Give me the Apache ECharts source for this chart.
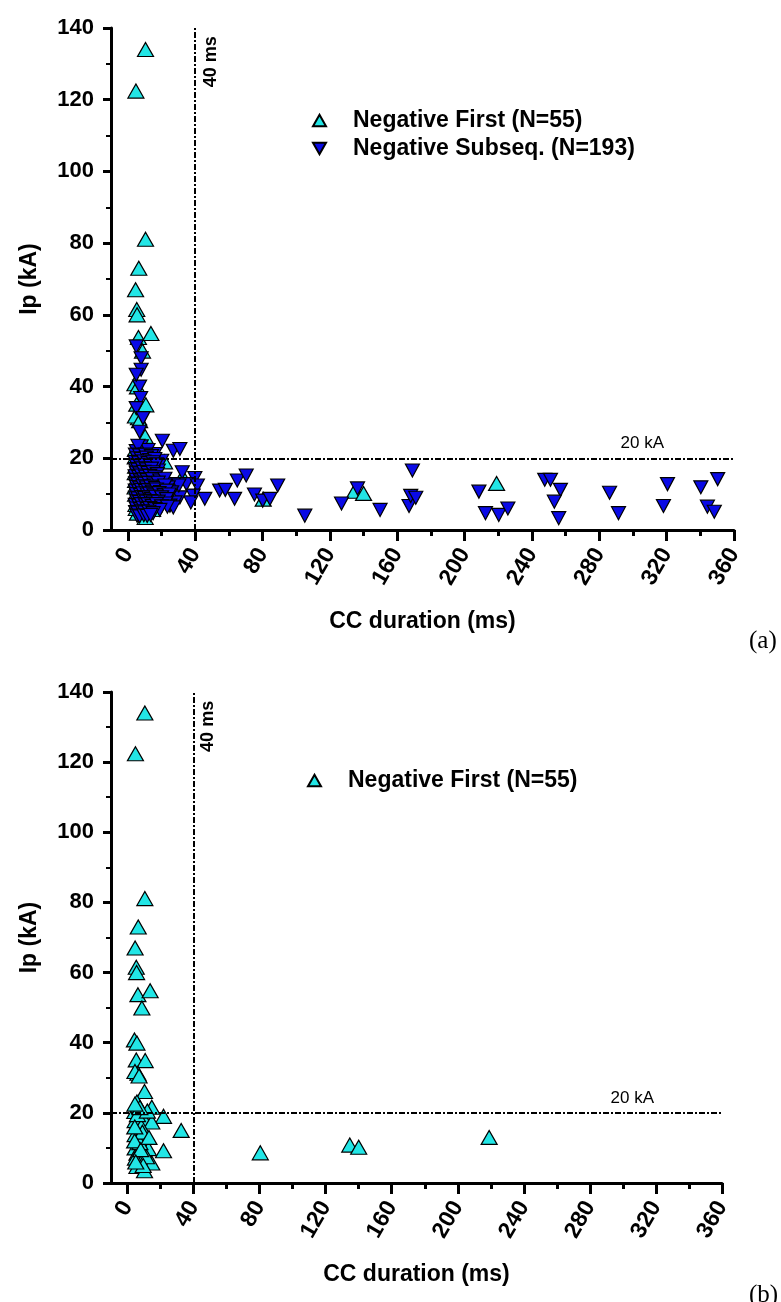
<!DOCTYPE html>
<html><head><meta charset="utf-8">
<script src="https://cdn.jsdelivr.net/npm/echarts@6/dist/echarts.min.js"></script>
<style>html,body{margin:0;padding:0;background:#fff}#c{width:781px;height:1302px}</style>
</head><body><div id="c"></div>
<script>
// ---- data ----
const xMajorTicks = [0, 40, 80, 120, 160, 200, 240, 280, 320, 360];
const xMinorTicks = [20, 60, 100, 140, 180, 220, 260, 300, 340];
const yRange = [0, 140];
const durationThreshold = 40;   // ms
const currentThreshold = 20;    // kA
const firstName = 'Negative First (N=55)';
const subseqName = 'Negative Subseq. (N=193)';

// [CC duration (ms), Ip (kA)]
const negativeFirst = [
  [10.5,134],[4.8,122.4],[10.5,81.1],[6.5,73],[4.6,67],[5.3,61.5],[5.5,60],[6.3,53.7],[13.7,54.8],[8.7,49.9],
  [4.2,40.8],[5.7,39.9],[5.3,35.1],[10.7,34.9],[6.3,31.3],[4.5,31.8],[7,30.5],[10.3,26.1],[5.7,23.1],[4.4,20.4],
  [14.7,21.6],[21.8,19],[4.6,17.8],[10.7,17.6],[14.7,17.4],[8.3,16.1],[32.5,15],[4.6,13.8],[6.7,13],[12.7,9.8],
  [21.8,9.2],[4.6,10],[5.7,8.5],[4.8,7.1],[8.7,6.2],[14.7,5.7],[5.7,4.7],[10.3,3.5],[80.4,8.6],[134.6,10.8],
  [140,10.2],[219,13],[7.5,11.5],[9,14.5],[4.3,12],[11.5,7.5],[6,19.5],[12,20.5],[4.4,16],[8,9.5],
  [9.5,5],[5,6],[13,13],[7.5,21.5],[4.5,22.5]
];

const negativeSubseq = [
  [45.7,8.7],[54.5,11.0],[57.9,11.2],[63.4,8.7],[65,13.8],[70.3,15.2],[75.2,9.9],[80.1,8.2],[84.4,8.7],[89,12.4],
  [105.1,4.0],[126.9,7.4],[136.4,11.6],[149.8,5.6],[169,16.6],[167,6.7],[168,9.5],[171,9.0],[208.5,10.7],[212.4,4.7],
  [220.3,4.2],[225.7,6.0],[247.6,14],[251,14],[256.9,11.2],[253.3,7.9],[255.9,3.3],[286.1,10.4],[291.4,4.7],[320.5,12.8],
  [318.1,6.7],[340.3,11.9],[350.3,14.2],[344.2,6.5],[348.3,5.1],
  [32.3,16.1],[39.8,14.5],[34.8,12.8],[41.3,12.4],[38.8,9.6],[37.4,7.7],[30.9,9.1],[28,7.7],[27,12.8],[30.3,12.4],
  [20.5,24.9],[27,22.1],[30.9,22.6],[20.1,19.3],[16.1,21.2],[18.1,16.6],[13.2,14.7],[20.1,11.9],[24,11.9],[26,10.5],
  [21.1,8.2],[25,6.8],[27,6.3],[18.1,8.7],[16.1,6.3],
  [5,51.2],[7.9,47.9],[7.9,44.7],[7,40],[7.6,36.8],[5,34],[9,31.2],[7,27.4],[8,23.3],[5,43.3],
  [5,22],[9,21.8],[12,22.3],[6,23.5],
  [4.5,21],[7,20.8],[10.5,21],[14,20.6],
  [5.5,20],[8,19.8],[11,20.2],[13,19.5],[16,19.8],
  [4.2,19],[6.5,18.8],[9.5,19.1],[12,18.7],[15,18.9],
  [5,18],[7.5,17.8],[10,18.2],[13.5,17.9],[17,18.3],
  [4.5,17],[6,16.8],[8.5,17.2],[11,16.9],[14,17.1],
  [5,16],[7,15.8],[9.5,16.2],[12,15.9],[15,16.1],[17.5,15.6],
  [4.3,15],[6.5,14.8],[8,15.2],[10.5,14.9],[13,15.1],[16,14.7],
  [5,14],[7.5,13.8],[9.5,14.1],[11.5,13.9],[14.5,14.2],[19,13.8],[22,14.3],
  [4.6,13],[6,12.8],[8.5,13.2],[10,12.9],[12.5,13.1],[15.5,12.7],[18,13.2],
  [5.2,12],[7,11.8],[9,12.2],[11,11.9],[13.5,12.1],[16.5,11.7],[22,12.4],
  [4.4,11],[6.5,10.8],[8,11.2],[10.5,10.9],[12,11.1],[14.5,10.7],[17,11.3],[19.5,10.6],[23,11],
  [5,10],[7.5,9.8],[9,10.2],[11.5,9.9],[13,10.1],[15.5,9.7],[18.5,10.3],[21.5,9.8],[24.5,9.9],
  [4.5,9],[6,8.8],[8.5,9.2],[10,8.9],[12.5,9.1],[14,8.7],[16.5,9.3],[20,9.1],[23,8.6],
  [5.3,8],[7,7.8],[9.5,8.2],[11,7.9],[13.5,8.1],[15,7.7],[18,7.9],[22.5,7.4],
  [4.4,7],[6.5,6.8],[8,7.2],[10.5,6.9],[12,7.1],[14.5,6.7],[17,7.2],[20,6.6],[23.5,6.5],
  [5,6],[7.5,5.8],[9,6.2],[11.5,5.9],[13,6.1],[16,5.8],[19,5.6],
  [4.6,5],[6,4.8],[8.5,5.2],[10,4.9],[12.5,5.1],[15,4.7],
  [5.5,4],[7,3.8],[9.5,4.1],[11.5,3.9],[13.5,4.2]
];

// ---- styles ----
const FONT = "'Liberation Sans', Arial, sans-serif";
const CYAN = '#22e6e6';
const BLUE = '#0a0ae6';
const UP = 'path://M8,0 L16,14 L0,14 Z';
const DOWN = 'path://M0,0 L16,0 L8,14 Z';
const dashDot = [6, 2, 2, 2];

const grids = [
  {left: 111, top: 28, width: 623, height: 502},
  {left: 111, top: 692, width: 611, height: 491}
];

function xAxesFor(gi) {
  return [
    {
      gridIndex: gi, type: 'value', min: -10, max: 360, position: 'bottom',
      name: 'CC duration (ms)', nameLocation: 'middle', nameGap: 80,
      nameTextStyle: {fontFamily: FONT, fontSize: 23, fontWeight: 'bold', color: '#000'},
      axisLine: {show: true, onZero: false, lineStyle: {color: '#000', width: 3}},
      axisTick: {show: true, customValues: xMajorTicks, length: 11, lineStyle: {color: '#000', width: 3}},
      axisLabel: {show: true, customValues: xMajorTicks, rotate: 60, margin: 20,
        fontFamily: FONT, fontSize: 23, fontWeight: 'bold', color: '#000'},
      splitLine: {show: false}
    },
    {
      gridIndex: gi, type: 'value', min: -10, max: 360, position: 'bottom', offset: 0,
      axisLine: {show: false},
      axisTick: {show: true, customValues: xMinorTicks, length: 6, lineStyle: {color: '#000', width: 3}},
      axisLabel: {show: false},
      splitLine: {show: false}
    }
  ];
}
function yAxisFor(gi) {
  return {
    gridIndex: gi, type: 'value', min: yRange[0], max: yRange[1], interval: 20,
    name: 'Ip (kA)', nameLocation: 'middle', nameGap: 70,
    nameTextStyle: {fontFamily: FONT, fontSize: 23, fontWeight: 'bold', color: '#000'},
    axisLine: {show: true, onZero: false, lineStyle: {color: '#000', width: 3}},
    axisTick: {show: true, length: 8, lineStyle: {color: '#000', width: 3}},
    minorTick: {show: true, splitNumber: 2, length: 5, lineStyle: {color: '#000', width: 2}},
    axisLabel: {margin: 17, fontFamily: FONT, fontSize: 22, fontWeight: 'bold', color: '#000'},
    splitLine: {show: false}
  };
}

function refLines() {
  return {
    symbol: 'none', silent: true, animation: false,
    lineStyle: {color: '#000', width: 2, type: dashDot},
    label: {show: false},
    data: [{yAxis: currentThreshold}, {xAxis: durationThreshold}]
  };
}
function refLabels(p20, p40) {
  return {
    symbol: 'circle', symbolSize: 0, silent: true, animation: false,
    itemStyle: {color: 'rgba(0,0,0,0)'},
    data: [
      {coord: p20, label: {show: true, position: 'inside', formatter: '20 kA', color: '#000',
        fontFamily: FONT, fontSize: 17, fontWeight: 'normal'}},
      {coord: p40, label: {show: true, position: 'inside', formatter: '40 ms', rotate: 90, color: '#000',
        fontFamily: FONT, fontSize: 18, fontWeight: 'bold'}}
    ]
  };
}

const firstStyle = {color: CYAN, borderColor: '#000', borderWidth: 1.2, opacity: 1};
const subseqStyle = {color: BLUE, borderColor: '#000', borderWidth: 1.2, opacity: 1};

const legendText = {fontFamily: FONT, fontSize: 23, fontWeight: 'bold', color: '#000', padding: [0, 0, 0, 22]};

const option = {
  animation: false,
  backgroundColor: '#fff',
  title: [
    {text: '(a)', left: 744, top: 624, textStyle: {fontFamily: "'Liberation Serif', 'Times New Roman', serif", fontSize: 25, fontWeight: 'normal', color: '#000'}},
    {text: '(b)', left: 744, top: 1278, textStyle: {fontFamily: "'Liberation Serif', 'Times New Roman', serif", fontSize: 25, fontWeight: 'normal', color: '#000'}}
  ],
  grid: grids,
  xAxis: [...xAxesFor(0), ...xAxesFor(1)],
  yAxis: [yAxisFor(0), yAxisFor(1)],
  legend: [
    {
      left: 307, top: 104, orient: 'vertical', itemWidth: 13, itemHeight: 12, itemGap: 5,
      selectedMode: false, textStyle: legendText,
      data: [{name: firstName, icon: UP}, {name: subseqName, icon: DOWN}]
    },
    {
      left: 302, top: 764, orient: 'vertical', itemWidth: 13, itemHeight: 12,
      selectedMode: false, textStyle: legendText,
      data: [{name: firstName, icon: UP}]
    }
  ],
  series: [
    {
      name: firstName, type: 'scatter', xAxisIndex: 0, yAxisIndex: 0,
      symbol: UP, symbolSize: [16, 14], itemStyle: firstStyle,
      data: negativeFirst,
      markLine: refLines(),
      markPoint: refLabels([305.5, 24.3], [49.5, 130.6])
    },
    {
      name: subseqName, type: 'scatter', xAxisIndex: 0, yAxisIndex: 0,
      symbol: DOWN, symbolSize: [14, 13], itemStyle: subseqStyle,
      data: negativeSubseq
    },
    {
      name: firstName, type: 'scatter', xAxisIndex: 2, yAxisIndex: 1,
      symbol: UP, symbolSize: [16, 14], itemStyle: firstStyle,
      data: negativeFirst,
      markLine: refLines(),
      markPoint: refLabels([305.7, 24.2], [48.7, 130.2])
    }
  ]
};

const chart = echarts.init(document.getElementById('c'), null, {renderer: 'canvas'});
chart.setOption(option);
</script>
</body></html>
